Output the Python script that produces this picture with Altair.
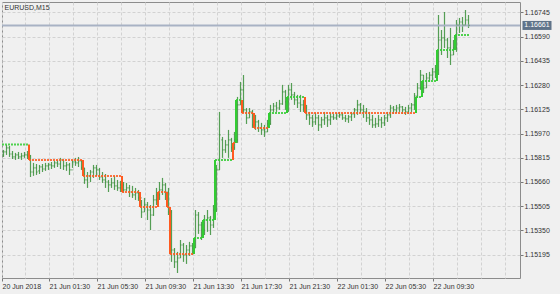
import json
import altair as alt
import pandas as pd

symbol_title = "EURUSD,M15"
time_labels = ["20 Jun 2018", "21 Jun 01:30", "21 Jun 05:30", "21 Jun 09:30", "21 Jun 13:30",
               "21 Jun 17:30", "21 Jun 21:30", "22 Jun 01:30", "22 Jun 05:30", "22 Jun 09:30"]
price_ticks = [1.15195, 1.15350, 1.15505, 1.15660, 1.15815, 1.15970,
               1.16125, 1.16280, 1.16435, 1.16590, 1.16745]
current_price = 1.16661

bar_open = [
    1.15833, 1.15852, 1.15878, 1.15839, 1.15820, 1.15833, 1.15820, 1.15827, 1.15833, 1.15827,
    1.15724, 1.15750, 1.15731, 1.15756, 1.15743, 1.15763, 1.15769, 1.15763, 1.15782, 1.15775,
    1.15801, 1.15763, 1.15769, 1.15737, 1.15788, 1.15782, 1.15795, 1.15750, 1.15673, 1.15699,
    1.15724, 1.15750, 1.15737, 1.15692, 1.15673, 1.15660, 1.15641, 1.15654, 1.15635, 1.15622,
    1.15641, 1.15609, 1.15622, 1.15596, 1.15577, 1.15590, 1.15558, 1.15468, 1.15513, 1.15481,
    1.15449, 1.15545, 1.15577, 1.15609, 1.15641, 1.15596, 1.15468, 1.15225, 1.15149, 1.15174,
    1.15257, 1.15194, 1.15225, 1.15251, 1.15238, 1.15449, 1.15385, 1.15353, 1.15417, 1.15430,
    1.15385, 1.15481, 1.15737, 1.15929, 1.15865, 1.15897, 1.15929, 1.15878, 1.15929, 1.16153,
    1.16249, 1.16121, 1.16070, 1.16108, 1.16025, 1.16044, 1.16006, 1.15993, 1.15980, 1.16031,
    1.16121, 1.16146, 1.16133, 1.16159, 1.16236, 1.16172, 1.16249, 1.16217, 1.16185, 1.16165,
    1.16153, 1.16133, 1.16089, 1.16070, 1.16044, 1.16070, 1.16025, 1.16057, 1.16070, 1.16057,
    1.16076, 1.16070, 1.16082, 1.16089, 1.16070, 1.16063, 1.16076, 1.16095, 1.16121, 1.16153,
    1.16121, 1.16108, 1.16070, 1.16057, 1.16025, 1.16031, 1.16057, 1.16038, 1.16070, 1.16089,
    1.16133, 1.16121, 1.16133, 1.16140, 1.16121, 1.16108, 1.16133, 1.16153, 1.16210, 1.16261,
    1.16344, 1.16261, 1.16325, 1.16344, 1.16364, 1.16376, 1.16568, 1.16581, 1.16568, 1.16517,
    1.16472, 1.16517, 1.16664, 1.16683, 1.16664, 1.16696]

bar_high = [
    1.15865, 1.15897, 1.15890, 1.15858, 1.15846, 1.15852, 1.15846, 1.15852, 1.15858, 1.15833,
    1.15782, 1.15775, 1.15769, 1.15775, 1.15782, 1.15782, 1.15788, 1.15795, 1.15801, 1.15814,
    1.15801, 1.15788, 1.15782, 1.15801, 1.15814, 1.15820, 1.15801, 1.15750, 1.15724, 1.15737,
    1.15769, 1.15769, 1.15750, 1.15724, 1.15711, 1.15673, 1.15686, 1.15699, 1.15673, 1.15667,
    1.15660, 1.15654, 1.15641, 1.15635, 1.15622, 1.15609, 1.15545, 1.15558, 1.15532, 1.15513,
    1.15577, 1.15622, 1.15660, 1.15686, 1.15654, 1.15622, 1.15481, 1.15238, 1.15213, 1.15289,
    1.15270, 1.15257, 1.15277, 1.15270, 1.15481, 1.15468, 1.15405, 1.15449, 1.15481, 1.15443,
    1.15513, 1.15769, 1.16108, 1.15948, 1.15929, 1.15993, 1.15942, 1.15980, 1.16204, 1.16300,
    1.16344, 1.16133, 1.16133, 1.16121, 1.16089, 1.16057, 1.16038, 1.16025, 1.16057, 1.16153,
    1.16165, 1.16172, 1.16185, 1.16281, 1.16249, 1.16281, 1.16293, 1.16236, 1.16217, 1.16217,
    1.16185, 1.16153, 1.16108, 1.16089, 1.16101, 1.16089, 1.16076, 1.16108, 1.16089, 1.16101,
    1.16095, 1.16101, 1.16108, 1.16101, 1.16089, 1.16089, 1.16108, 1.16133, 1.16185, 1.16165,
    1.16153, 1.16133, 1.16108, 1.16089, 1.16070, 1.16089, 1.16076, 1.16089, 1.16108, 1.16153,
    1.16146, 1.16153, 1.16159, 1.16146, 1.16140, 1.16153, 1.16165, 1.16229, 1.16293, 1.16376,
    1.16344, 1.16357, 1.16364, 1.16389, 1.16408, 1.16728, 1.16632, 1.16747, 1.16581, 1.16645,
    1.16568, 1.16696, 1.16709, 1.16715, 1.16760, 1.16728]

bar_low = [
    1.15820, 1.15833, 1.15820, 1.15807, 1.15801, 1.15807, 1.15801, 1.15814, 1.15807, 1.15692,
    1.15699, 1.15705, 1.15711, 1.15724, 1.15731, 1.15737, 1.15743, 1.15750, 1.15756, 1.15743,
    1.15737, 1.15731, 1.15705, 1.15750, 1.15763, 1.15756, 1.15737, 1.15648, 1.15622, 1.15660,
    1.15686, 1.15699, 1.15673, 1.15654, 1.15622, 1.15596, 1.15622, 1.15609, 1.15603, 1.15596,
    1.15590, 1.15603, 1.15564, 1.15558, 1.15545, 1.15539, 1.15430, 1.15468, 1.15417, 1.15353,
    1.15443, 1.15513, 1.15545, 1.15577, 1.15545, 1.15449, 1.15149, 1.15110, 1.15078, 1.15174,
    1.15149, 1.15136, 1.15187, 1.15194, 1.15238, 1.15328, 1.15289, 1.15321, 1.15341, 1.15321,
    1.15366, 1.15468, 1.15737, 1.15814, 1.15846, 1.15814, 1.15852, 1.15865, 1.15910, 1.16153,
    1.16101, 1.16031, 1.16070, 1.16006, 1.15993, 1.15980, 1.15961, 1.15948, 1.15980, 1.16025,
    1.16108, 1.16108, 1.16121, 1.16153, 1.16121, 1.16108, 1.16185, 1.16153, 1.16133, 1.16108,
    1.16108, 1.16057, 1.16025, 1.16012, 1.16025, 1.15986, 1.16006, 1.16025, 1.16012, 1.16025,
    1.16057, 1.16057, 1.16070, 1.16057, 1.16044, 1.16038, 1.16050, 1.16070, 1.16089, 1.16101,
    1.16070, 1.16044, 1.16025, 1.16006, 1.16006, 1.16012, 1.16006, 1.16018, 1.16044, 1.16070,
    1.16095, 1.16101, 1.16108, 1.16095, 1.16089, 1.16095, 1.16108, 1.16121, 1.16197, 1.16249,
    1.16229, 1.16261, 1.16300, 1.16312, 1.16325, 1.16344, 1.16472, 1.16517, 1.16453, 1.16408,
    1.16472, 1.16492, 1.16613, 1.16619, 1.16664, 1.16645]

bar_close = [
    1.15852, 1.15878, 1.15839, 1.15820, 1.15833, 1.15820, 1.15827, 1.15833, 1.15827, 1.15724,
    1.15750, 1.15724, 1.15756, 1.15743, 1.15763, 1.15769, 1.15763, 1.15782, 1.15775, 1.15801,
    1.15763, 1.15769, 1.15737, 1.15788, 1.15782, 1.15795, 1.15750, 1.15673, 1.15699, 1.15724,
    1.15750, 1.15737, 1.15692, 1.15673, 1.15660, 1.15641, 1.15654, 1.15635, 1.15622, 1.15641,
    1.15609, 1.15622, 1.15596, 1.15577, 1.15590, 1.15558, 1.15468, 1.15513, 1.15481, 1.15449,
    1.15545, 1.15577, 1.15609, 1.15641, 1.15596, 1.15468, 1.15225, 1.15149, 1.15174, 1.15257,
    1.15194, 1.15225, 1.15251, 1.15238, 1.15449, 1.15385, 1.15353, 1.15417, 1.15430, 1.15385,
    1.15481, 1.15737, 1.15961, 1.15865, 1.15897, 1.15929, 1.15878, 1.15929, 1.16153, 1.16249,
    1.16121, 1.16070, 1.16108, 1.16025, 1.16044, 1.16006, 1.15993, 1.15980, 1.16031, 1.16121,
    1.16146, 1.16133, 1.16159, 1.16236, 1.16172, 1.16249, 1.16217, 1.16185, 1.16165, 1.16153,
    1.16133, 1.16089, 1.16070, 1.16044, 1.16070, 1.16025, 1.16057, 1.16070, 1.16057, 1.16076,
    1.16070, 1.16082, 1.16089, 1.16070, 1.16063, 1.16076, 1.16095, 1.16121, 1.16153, 1.16121,
    1.16108, 1.16070, 1.16057, 1.16025, 1.16031, 1.16057, 1.16038, 1.16070, 1.16089, 1.16133,
    1.16121, 1.16133, 1.16140, 1.16121, 1.16108, 1.16133, 1.16153, 1.16210, 1.16261, 1.16344,
    1.16261, 1.16325, 1.16344, 1.16364, 1.16376, 1.16568, 1.16581, 1.16568, 1.16517, 1.16472,
    1.16517, 1.16664, 1.16683, 1.16664, 1.16696, 1.16661]

# step indicator: runs of constant level
run_start = [0, 9, 27, 40, 46, 52, 55, 56, 64, 67, 71, 77, 78, 80, 84, 89, 95, 101, 138, 140, 145, 151]
run_level = [1.15899, 1.15801, 1.15699, 1.15596, 1.15500, 1.15596, 1.15500, 1.15200, 1.15302,
             1.15417, 1.15801, 1.15910, 1.16185, 1.16101, 1.16006, 1.16101, 1.16204, 1.16101,
             1.16204, 1.16306, 1.16504, 1.16600]
run_trend = ["up", "down", "down", "down", "down", "down", "down", "down", "up", "up", "up",
             "down", "up", "down", "down", "up", "up", "down", "up", "up", "up", "up"]

GREEN = "#32CD32"
ORANGE = "#FF5A1F"
BAR = "#3a8f3a"
FONT = "Liberation Sans"

n = len(bar_close)
bars = pd.DataFrame({
    "i": list(range(n)), "o": bar_open, "h": bar_high, "l": bar_low, "c": bar_close,
})
bars["il"] = bars["i"] - 0.36
bars["ir"] = bars["i"] + 0.36

run_end = [s - 1 for s in run_start[1:]] + [n - 1]
hseg = pd.DataFrame({
    "xs": [s - 0.5 for s in run_start],
    "xe": [e + 0.5 for e in run_end],
    "lev": run_level,
    "trend": run_trend,
})
vseg = pd.DataFrame({
    "x": [run_start[k] - 0.5 for k in range(1, len(run_start))],
    "y1": [run_level[k - 1] for k in range(1, len(run_start))],
    "y2": [run_level[k] for k in range(1, len(run_start))],
    "trend": [run_trend[k] for k in range(1, len(run_start))],
})
cur = pd.DataFrame({"p": [current_price], "t": [f"{current_price:.5f}"], "i": [0.0]})
ttl = pd.DataFrame({"t": [symbol_title]})

W, H = 518, 276
xscale = alt.Scale(domain=[-0.5, -0.5 + W / 3.0], nice=False, zero=False)
yscale = alt.Scale(domain=[1.15046, 1.16811], nice=False, zero=False)
cscale = alt.Scale(domain=["up", "down"], range=[GREEN, ORANGE])

grid_vals = [-0.5] + [8 * k - 0.8 for k in range(1, 22)]
labels_js = json.dumps(time_labels)
nlab = len(time_labels)
label_expr = (f"round((datum.value+0.8)/8) % 2 == 0 && round((datum.value+0.8)/16) < {nlab} ? "
              f"{labels_js}[round((datum.value+0.8)/16)] : ''")
tick_test = f"round((datum.value+0.8)/8) % 2 == 0 && round((datum.value+0.8)/16) < {nlab}"

xaxis = alt.Axis(values=grid_vals, labelExpr=label_expr, grid=True, gridDash=[3, 2],
                 gridColor="#d2d2d2", domain=False, tickSize=3, tickColor="#777777",
                 tickOpacity={"condition": {"test": tick_test, "value": 1}, "value": 0},
                 labelAlign="left", labelBaseline="top", labelPadding=1, labelFont=FONT,
                 labelFontSize=7, labelColor="#333333", labelOverlap=False, labelFlush=False,
                 labelBound=False, title=None)
yaxis = alt.Axis(orient="right", values=price_ticks, format=".5f", grid=True, gridDash=[3, 2],
                 gridColor="#d2d2d2", domain=False, tickSize=3, tickColor="#777777",
                 labelPadding=1, labelFont=FONT, labelFontSize=7, labelColor="#333333",
                 labelOverlap=False, labelFlush=False, labelBound=False, title=None)


def X(field):
    return alt.X(field, type="quantitative", scale=xscale, axis=xaxis)


def Y(field):
    return alt.Y(field, type="quantitative", scale=yscale, axis=yaxis)


price_line = alt.Chart(cur).mark_rule(color="#a8b2c4", strokeWidth=2).encode(y=Y("p"))

hl = alt.Chart(bars).mark_rule(color=BAR, strokeWidth=1.2, opacity=0.85).encode(
    x=X("i"), y=Y("l"), y2="h:Q")
op = alt.Chart(bars).mark_rule(color=BAR, strokeWidth=1.2, opacity=0.85).encode(
    x=X("il"), x2="i:Q", y=Y("o"))
cl = alt.Chart(bars).mark_rule(color=BAR, strokeWidth=1.2, opacity=0.85).encode(
    x=X("i"), x2="ir:Q", y=Y("c"))

ind_h = alt.Chart(hseg).mark_rule(strokeWidth=2, strokeDash=[2, 1], opacity=0.85).encode(
    x=X("xs"), x2="xe:Q", y=Y("lev"),
    color=alt.Color("trend:N", scale=cscale, legend=None))
ind_v = alt.Chart(vseg).mark_rule(strokeWidth=2).encode(
    x=X("x"), y=Y("y1"), y2="y2:Q",
    color=alt.Color("trend:N", scale=cscale, legend=None))

box = alt.Chart(cur).mark_rule(color="#5f7389", strokeWidth=9).encode(
    x=alt.value(520.5), x2=alt.value(549.5), y=Y("p"))
box_txt = alt.Chart(cur).mark_text(color="white", font=FONT, fontSize=7, align="center",
                                   baseline="middle").encode(
    x=alt.value(535), y=Y("p"), text="t:N")
title_txt = alt.Chart(ttl).mark_text(color="#333333", font=FONT, fontSize=7, align="left",
                                     baseline="top").encode(
    x=alt.value(2.5), y=alt.value(1.5), text="t:N")

chart = alt.layer(hl, price_line, op, cl, ind_h, ind_v, box, box_txt, title_txt).properties(
    width=W, height=H,
    padding={"left": 2, "top": 2, "right": 40, "bottom": 16},
    autosize=alt.AutoSizeParams(type="none"),
    background="#f0f0f0",
).configure_view(stroke="#8c8c8c", strokeWidth=1, fill="#f0f0f0")

chart.save("out.html", embed_options={"renderer": "svg", "actions": False})
